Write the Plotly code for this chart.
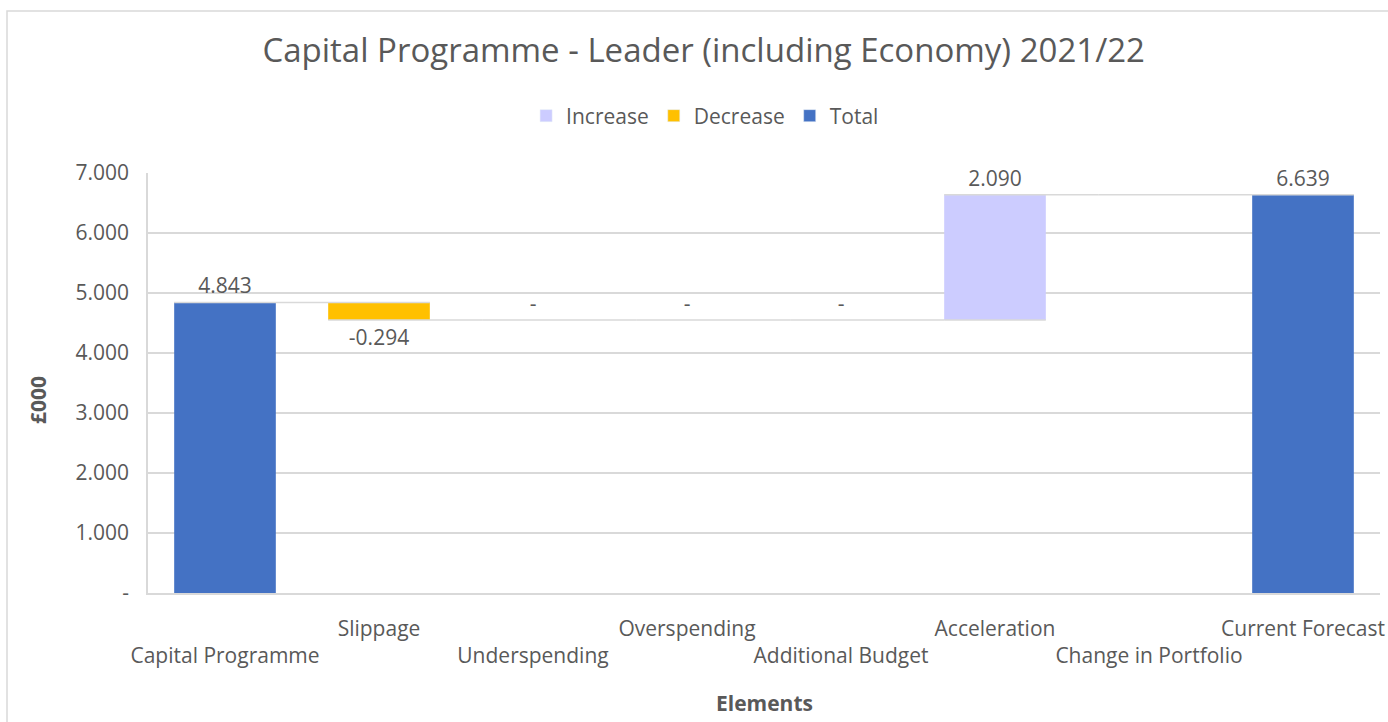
import plotly.graph_objects as go

# Waterfall of the 2021/22 capital programme movements (£000)
categories = ["Capital Programme", "Slippage", "Underspending", "Overspending",
              "Additional Budget", "Acceleration", "Change in Portfolio", "Current Forecast"]
measures = ["absolute", "relative", "relative", "relative",
            "relative", "relative", "relative", "total"]
values = [4.843, -0.294, 0, 0, 0, 2.090, 0, 6.639]
labels = ["4.843", "-0.294", "-", "-", "-", "2.090", "", "6.639"]

y_tickvals = [0, 1, 2, 3, 4, 5, 6, 7]
y_ticktext = ["-", "1.000", "2.000", "3.000", "4.000", "5.000", "6.000", "7.000"]

# staggered category labels: every other label drops to a second row
x_ticktext = [c if i % 2 else "<br>" + c for i, c in enumerate(categories)]

C_INC = "#CCCCFF"
C_DEC = "#FFC000"
C_TOT = "#4472C4"
TXT = "#595959"
GRID = "#D9D9D9"
FONT = "Open Sans"
FS = 21

# total bars are computed by the waterfall from the running sum
wf_values = [v if m != "total" else 0 for v, m in zip(values, measures)]

fig = go.Figure()
fig.add_trace(go.Waterfall(
    x=categories, y=wf_values, measure=measures,
    text=labels, textposition="outside", cliponaxis=False,
    textfont=dict(family=FONT, size=FS, color=TXT),
    increasing=dict(marker=dict(color=C_INC)),
    decreasing=dict(marker=dict(color=C_DEC)),
    totals=dict(marker=dict(color=C_TOT)),
    connector=dict(mode="spanning", line=dict(color=GRID, width=1.5)),
    showlegend=False, hoverinfo="x+y",
))

# legend swatches
for name, col in [("Increase", C_INC), ("Decrease", C_DEC), ("Total", C_TOT)]:
    fig.add_trace(go.Bar(x=[categories[0]], y=[None], name=name,
                         marker=dict(color=col), showlegend=True))

fig.update_layout(
    width=1388, height=722,
    margin=dict(l=148, r=8, t=173, b=129, autoexpand=False),
    paper_bgcolor="white", plot_bgcolor="white",
    font=dict(family=FONT, color=TXT, size=FS),
    bargap=0.34, waterfallgap=0.34,
    title=dict(text="Capital Programme - Leader (including Economy) 2021/22",
               x=0.507, xref="container", xanchor="center",
               y=1 - 50 / 722, yref="container", yanchor="middle",
               font=dict(family=FONT, size=33, color=TXT)),
    legend=dict(orientation="h", xref="container", yref="container",
                x=0.508, xanchor="center", y=1 - 116 / 722, yanchor="middle",
                font=dict(family=FONT, size=FS, color=TXT),
                itemwidth=30, traceorder="normal"),
    xaxis=dict(type="category", tickvals=categories, ticktext=x_ticktext,
               showgrid=False, showline=True, linecolor=GRID, linewidth=1.5,
               ticks="", tickangle=0, automargin=False, ticklabelstandoff=16,
               tickfont=dict(family=FONT, size=FS, color=TXT)),
    yaxis=dict(range=[0, 7], tickvals=y_tickvals, ticktext=y_ticktext,
               showgrid=True, gridcolor=GRID, gridwidth=1.5,
               showline=True, linecolor=GRID, linewidth=1.5,
               zeroline=False, ticks="", automargin=False, ticklabelstandoff=13,
               tickfont=dict(family=FONT, size=FS, color=TXT)),
    annotations=[
        dict(text="<b>£000</b>", textangle=-90, xref="paper", yref="paper",
             x=(38 - 148) / 1232, y=(593 - 400) / 420, xanchor="center", yanchor="middle",
             showarrow=False, font=dict(family=FONT, size=FS, color=TXT)),
        dict(text="<b>Elements</b>", xref="paper", yref="paper",
             x=0.5, y=(593 - 703) / 420, xanchor="center", yanchor="middle",
             showarrow=False, font=dict(family=FONT, size=FS, color=TXT)),
    ],
    shapes=[
        dict(type="rect", xref="paper", yref="paper",
             x0=(7 - 148) / 1232, x1=(1400 - 148) / 1232,
             y0=(593 - 740) / 420, y1=(593 - 11) / 420,
             line=dict(color=GRID, width=1.5), fillcolor="rgba(0,0,0,0)", layer="below"),
    ],
)

fig.write_html("out.html")
